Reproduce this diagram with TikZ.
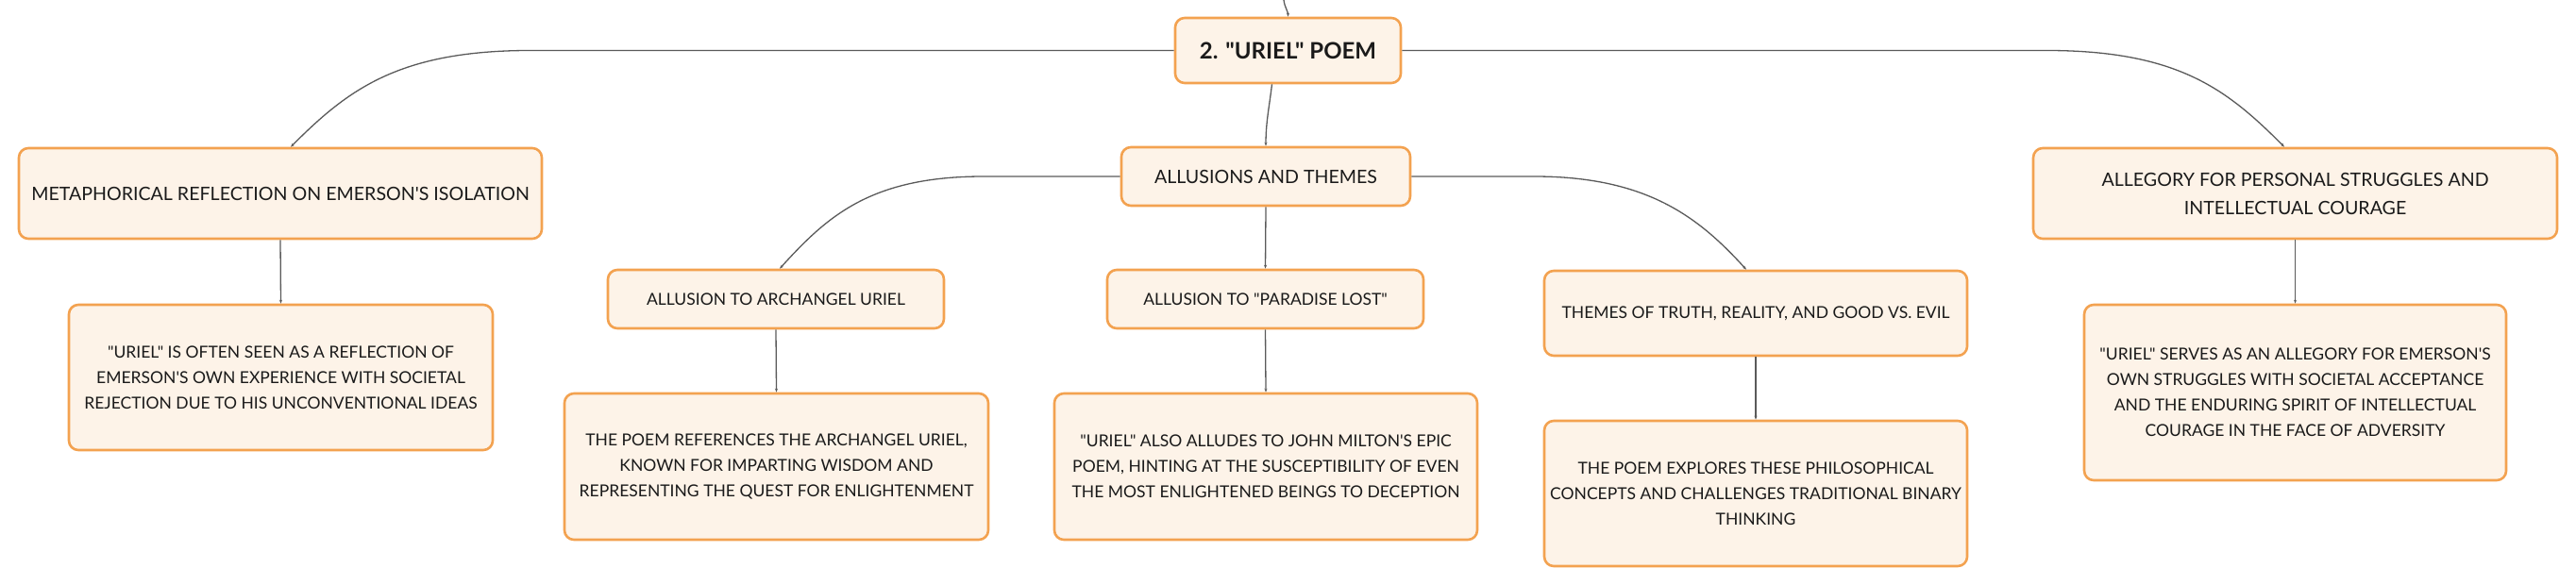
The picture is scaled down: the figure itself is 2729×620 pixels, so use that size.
\documentclass[tikz,border=0pt]{standalone}
\usepackage{fontspec}
\setmainfont{Lato}[Ligatures=TeXOff]
\usetikzlibrary{arrows.meta,calc}
\definecolor{boxfill}{HTML}{FDF3E8}
\definecolor{boxdraw}{HTML}{F3A250}
\definecolor{linecol}{HTML}{5A5A5A}
\definecolor{txt}{HTML}{1A1A1A}
\tikzset{
  box/.style={draw=boxdraw, fill=boxfill, line width=2.6pt, rounded corners=10pt,
    inner sep=0pt, align=center, text=txt,
    font=\fontsize{17.5}{27}\selectfont},
  titlebox/.style={box, font=\fontsize{19.6}{30}\selectfont},
  rootbox/.style={box, font=\fontsize{24}{28}\selectfont\bfseries},
  conn/.style={draw=linecol, line width=1.3pt, -{Stealth[length=4pt,width=3pt]}},
}
\begin{document}
\begin{tikzpicture}[x=1pt,y=-1pt]
\useasboundingbox (0,0) rectangle (2729,620);
% nodes
\node[rootbox, minimum width=239pt, minimum height=69pt] (root) at (1364.5,53.5) {2. "URIEL" POEM};
\node[titlebox, minimum width=306pt, minimum height=62pt] (allu) at (1341,187) {ALLUSIONS AND THEMES};
\node[titlebox, minimum width=554pt, minimum height=96pt] (meta) at (297,205) {METAPHORICAL REFLECTION ON EMERSON'S ISOLATION};
\node[box, minimum width=449pt, minimum height=154pt] (metac) at (297.5,400) {"URIEL" IS OFTEN SEEN AS A REFLECTION OF\\EMERSON'S OWN EXPERIENCE WITH SOCIETAL\\REJECTION DUE TO HIS UNCONVENTIONAL IDEAS};
\node[titlebox, minimum width=555pt, minimum height=96pt] (alle) at (2431.5,205) {ALLEGORY FOR PERSONAL STRUGGLES AND\\INTELLECTUAL COURAGE};
\node[box, minimum width=447pt, minimum height=186pt] (allec) at (2431.5,416) {"URIEL" SERVES AS AN ALLEGORY FOR EMERSON'S\\OWN STRUGGLES WITH SOCIETAL ACCEPTANCE\\AND THE ENDURING SPIRIT OF INTELLECTUAL\\COURAGE IN THE FACE OF ADVERSITY};
\node[box, minimum width=356pt, minimum height=62pt] (arch) at (822,317) {ALLUSION TO ARCHANGEL URIEL};
\node[box, minimum width=449pt, minimum height=155pt] (archc) at (822.5,494.5) {THE POEM REFERENCES THE ARCHANGEL URIEL,\\KNOWN FOR IMPARTING WISDOM AND\\REPRESENTING THE QUEST FOR ENLIGHTENMENT};
\node[box, minimum width=335pt, minimum height=62pt] (para) at (1340.5,317) {ALLUSION TO "PARADISE LOST"};
\node[box, minimum width=448pt, minimum height=155pt] (parac) at (1341,494.5) {"URIEL" ALSO ALLUDES TO JOHN MILTON'S EPIC\\POEM, HINTING AT THE SUSCEPTIBILITY OF EVEN\\THE MOST ENLIGHTENED BEINGS TO DECEPTION};
\node[box, minimum width=448pt, minimum height=90pt] (them) at (1860,332) {THEMES OF TRUTH, REALITY, AND GOOD VS. EVIL};
\node[box, minimum width=448pt, minimum height=154pt] (themc) at (1860,523) {THE POEM EXPLORES THESE PHILOSOPHICAL\\CONCEPTS AND CHALLENGES TRADITIONAL BINARY\\THINKING};
\coordinate (up) at (1360,0);
% connectors
\draw[conn] (up) .. controls +(1,8) and +(0,-6) .. (root.north);
\draw[conn] ([xshift=-17pt]root.south) .. controls +(-3,25) and +(0,-25) .. (allu.north);
\draw[conn] (root.west) -- ($(root.west)+(-682,0)$) .. controls +(-140,0) and +(60,-60) .. ([xshift=11pt]meta.north);
\draw[conn] (root.east) -- ($(root.east)+(683,0)$) .. controls +(140,0) and +(-60,-60) .. ([xshift=-11.5pt]alle.north);
\draw[conn] (allu.west) -- ($(allu.west)+(-145,0)$) .. controls +(-120,0) and +(50,-55) .. ([xshift=4pt]arch.north);
\draw[conn] (allu.east) -- ($(allu.east)+(130,0)$) .. controls +(120,0) and +(-50,-55) .. ([xshift=-10pt]them.north);
\draw[conn] (allu.south) -- (para.north);
\draw[conn] (meta.south) -- (metac.north);
\draw[conn] (alle.south) -- (allec.north);
\draw[conn] (arch.south) -- (archc.north);
\draw[conn] (para.south) -- (parac.north);
\draw[conn] (them.south) -- (themc.north);
\end{tikzpicture}
\end{document}
